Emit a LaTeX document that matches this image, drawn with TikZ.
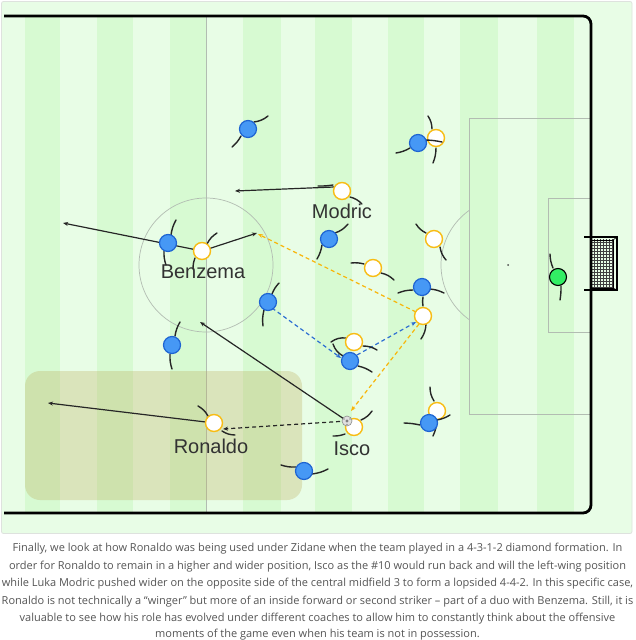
\documentclass[tikz,border=0pt]{standalone}
\usepackage{fontspec}
\setmainfont{Liberation Sans}
\newfontfamily\capfont{Open Sans}
\usetikzlibrary{arrows.meta,calc}
\definecolor{lightg}{RGB}{232,253,230}
\definecolor{darkg}{RGB}{215,250,210}
\definecolor{frameg}{RGB}{222,226,222}
\definecolor{lineg}{RGB}{178,188,178}
\definecolor{zonec}{RGB}{190,178,100}
\definecolor{pblue}{RGB}{70,152,245}
\definecolor{pblueb}{RGB}{30,100,210}
\definecolor{pyel}{RGB}{248,188,20}
\definecolor{pgreen}{RGB}{50,238,100}
\definecolor{dashy}{RGB}{248,182,10}
\definecolor{dashb}{RGB}{45,110,210}
\definecolor{labc}{RGB}{50,50,50}
\definecolor{capc}{RGB}{85,85,85}
\tikzset{
  bluep/.style={circle, fill=pblue, draw=pblueb, line width=1.2pt, minimum size=17pt, inner sep=0pt},
  whitep/.style={circle, fill=white, draw=pyel, line width=1.4pt, minimum size=17pt, inner sep=0pt},
  keeper/.style={circle, fill=pgreen, draw=black, line width=1.1pt, minimum size=17pt, inner sep=0pt},
  armline/.style={line width=1.4pt, black!85, line cap=round},
  runarrow/.style={line width=1.2pt, black!85, -{Stealth[length=5pt,width=4pt]}},
  rundashed/.style={line width=1.2pt, black!85, dash pattern=on 4pt off 3pt, -{Stealth[length=5pt,width=4pt]}},
  yelpass/.style={line width=1.2pt, dashy, dash pattern=on 4pt off 3pt, -{Stealth[length=5pt,width=4pt]}},
  bluepass/.style={line width=1.2pt, dashb, dash pattern=on 4pt off 3pt, -{Stealth[length=5pt,width=4pt]}},
  pitchline/.style={line width=0.7pt, lineg},
  netline/.style={line width=0.35pt, black!75},
  namelabel/.style={font=\fontsize{20}{22}\selectfont, text=labc, inner sep=0pt},
  capline/.style={font=\capfont\fontsize{11}{13}\selectfont, text=capc, inner sep=0pt, anchor=center}
}
\begin{document}
\begin{tikzpicture}[x=1pt,y=-1pt]
\useasboundingbox (0,0) rectangle (635,640);
\fill[white] (0,0) rectangle (635,640);
\draw[frameg, fill=lightg, line width=0.8pt, rounded corners=2pt] (1.5,1.5) rectangle (632,533.5);
% stripes
\foreach \a/\b in {25/60,97/133,170/206,243/281,315/352,388/424,460/498,537/574}
  \fill[darkg] (\a,16) rectangle (\b,513);
% markings
\draw[pitchline] (206,16) -- (206,513);
\draw[pitchline] (206,265) circle[radius=67pt];
\draw[pitchline] (591,118) -- (469,118) -- (469,414) -- (591,414);
\draw[pitchline] (591,198) -- (548,198) -- (548,332) -- (591,332);
\fill[black!70] (508,265) circle[radius=1pt];
\begin{scope}
  \clip (0,0) rectangle (469,640);
  \draw[pitchline] (508,265) circle[radius=67pt];
\end{scope}
% goal
\foreach \x in {594,597,...,612} \draw[netline] (\x,239) -- (\x,289);
\foreach \y in {242,245,...,287} \draw[netline] (591,\y) -- (614,\y);
\draw[line width=0.6pt] (591,240) -- (613,240) -- (613,288) -- (591,288);
\draw[line width=0.6pt] (613,240) -- (617,237) (613,288) -- (617,290);
\draw[line width=2.8pt] (584,237) -- (617,237) -- (617,290) -- (584,290);
% pitch outline
\draw[line width=2.8pt, rounded corners=8pt] (4,16) -- (591,16) -- (591,513) -- (4,513);
% Ronaldo zone
\fill[zonec, opacity=0.33, rounded corners=15pt] (25,371) rectangle (302,500);

% player coordinates
\coordinate (benz) at (202,251);
\coordinate (modr) at (342,191);
\coordinate (ronc) at (214,423);
\coordinate (isco) at (354,427);
\coordinate (ballc) at (347,421);
\coordinate (ymid) at (423,316);
\coordinate (bfive) at (268,302);
\coordinate (bnine) at (350,361);
% arrow ends
\coordinate (e1) at (63,223);
\coordinate (e2) at (257,233);
\coordinate (m0) at (334,187);
\coordinate (e3) at (235,191);
\coordinate (e4) at (48,403);
\coordinate (e5) at (200,322);
\coordinate (e6) at (223,429);
\coordinate (y0) at (416,312);
\coordinate (y1) at (258,234);
\coordinate (y2) at (419,324);
\coordinate (y3) at (351,411);
\coordinate (b0) at (272,308);
\coordinate (b1) at (341,358);
\coordinate (b2) at (357,355);
\coordinate (b3) at (416,322);

% arrows
\draw[runarrow] (benz) -- (e1);
\draw[runarrow] (benz) -- (e2);
\draw[runarrow] (m0) -- (e3);
\draw[runarrow] (ronc) -- (e4);
\draw[runarrow] (ballc) -- (e5);
\draw[rundashed] (ballc) -- (e6);
\draw[yelpass] (y0) -- (y1);
\draw[yelpass] (y2) -- (y3);
\draw[bluepass] (b0) -- (b1);
\draw[bluepass] (b2) -- (b3);

% white (yellow) players with arms
\draw[armline] (207,244) to[bend left=15] (217,233);
\draw[armline] (195,258) to[bend right=10] (193,269);
\node[whitep] (pbenz) at (benz) {};
\draw[armline] (333,185) to[bend left=5] (318,186);
\draw[armline] (350,197) to[bend left=15] (362,204);
\node[whitep] (pmodr) at (modr) {};
\draw[armline] (432,129) to[bend right=15] (428,116);
\draw[armline] (436,148) to[bend left=10] (433,163);
\node[whitep] (pc) at (436,138) {};
\draw[armline] (426,233) to[bend left=15] (416,224);
\draw[armline] (440,247) to[bend right=15] (446,260);
\node[whitep] (pd) at (434,239) {};
\draw[armline] (364,264) to[bend right=10] (351,263);
\draw[armline] (381,273) to[bend left=15] (394,280);
\node[whitep] (pe) at (373,268) {};
\draw[armline] (423,306) to[bend left=10] (423,297);
\draw[armline] (426,324) to[bend left=15] (421,339);
\node[whitep] (pymid) at (ymid) {};
\draw[armline] (346,338) to[bend right=20] (331,342);
\draw[armline] (363,346) to[bend left=15] (377,350);
\node[whitep] (pg) at (354,342) {};
\draw[armline] (361,420) to[bend right=15] (372,411);
\draw[armline] (345,434) to[bend left=10] (333,436);
\node[whitep] (pisco) at (isco) {};
\draw[armline] (434,401) to[bend left=15] (430,387);
\draw[armline] (437,420) to[bend left=10] (433,436);
\node[whitep] (pi) at (437,411) {};
\draw[armline] (208,416) to[bend right=15] (198,406);
\draw[armline] (222,431) to[bend right=15] (235,435);
\node[whitep] (pron) at (ronc) {};
% ball
\node[circle, fill=black!12, draw=black!45, line width=0.6pt, minimum size=10pt, inner sep=0pt] (ball) at (ballc) {};
\fill[black!50] (ball.center) circle[radius=1.6pt];
\fill[black!40] ($(ball.center)+(-3,-2)$) circle[radius=0.9pt] ($(ball.center)+(3,-2)$) circle[radius=0.9pt] ($(ball.center)+(0,3.5)$) circle[radius=0.9pt];

% blue players with arms
\draw[armline] (254,122) to[bend right=15] (268,116);
\draw[armline] (241,136) to[bend left=10] (232,147);
\node[bluep] (q1) at (248,129) {};
\draw[armline] (171,235) to[bend left=10] (176,220);
\draw[armline] (164,251) to[bend right=10] (166,265);
\node[bluep] (q2) at (168,243) {};
\draw[armline] (335,233) to[bend right=15] (348,224);
\draw[armline] (322,245) to[bend left=10] (317,259);
\node[bluep] (q3) at (329,239) {};
\draw[armline] (410,148) to[bend left=10] (396,153);
\draw[armline] (425,140) to[bend left=5] (442,142);
\node[bluep] (q4) at (418,143) {};
\draw[armline] (272,294) to[bend left=10] (279,283);
\draw[armline] (264,310) to[bend right=10] (263,326);
\node[bluep] (q5) at (bfive) {};
\draw[armline] (175,336) to[bend left=10] (180,322);
\draw[armline] (170,354) to[bend right=10] (172,369);
\node[bluep] (q6) at (172,345) {};
\draw[armline] (296,467) to[bend left=10] (281,465);
\draw[armline] (312,474) to[bend right=10] (328,469);
\node[bluep] (q7) at (304,471) {};
\draw[armline] (413,290) to[bend right=10] (398,293);
\draw[armline] (430,289) to[bend left=10] (444,293);
\node[bluep] (q8) at (422,287) {};
\draw[armline] (358,366) to[bend left=10] (372,372);
\draw[armline] (343,356) to[bend left=20] (333,344);
\node[bluep] (q9) at (bnine) {};
\draw[armline] (420,425) to[bend right=5] (404,423);
\draw[armline] (437,420) to[bend right=10] (450,415);
\node[bluep] (q10) at (429,423) {};
\draw[armline] (553,268) to[bend left=10] (550,254);
\draw[armline] (561,286) to[bend left=5] (560,300);
\node[keeper] (gk) at (558,277) {};

% labels
\node[namelabel] (lmod) at (342,211) {Modric};
\node[namelabel] (lbenz) at (203,272) {Benzema};
\node[namelabel] (lron) at (211,446) {Ronaldo};
\node[namelabel] (lisco) at (352,449) {Isco};

% caption
\node[capline] (c1) at (317.5,549) {Finally, we look at how Ronaldo was being used under Zidane when the team played in a 4-3-1-2 diamond formation. In};
\node[capline] (c2) at (317.5,566.5) {order for Ronaldo to remain in a higher and wider position, Isco as the \#10 would run back and will the left-wing position};
\node[capline] (c3) at (317.5,584) {while Luka Modric pushed wider on the opposite side of the central midfield 3 to form a lopsided 4-4-2. In this specific case,};
\node[capline] (c4) at (317.5,601.5) {Ronaldo is not technically a “winger” but more of an inside forward or second striker – part of a duo with Benzema. Still, it is};
\node[capline] (c5) at (317.5,619) {valuable to see how his role has evolved under different coaches to allow him to constantly think about the offensive};
\node[capline] (c6) at (317.5,635) {moments of the game even when his team is not in possession.};
\end{tikzpicture}
\end{document}
